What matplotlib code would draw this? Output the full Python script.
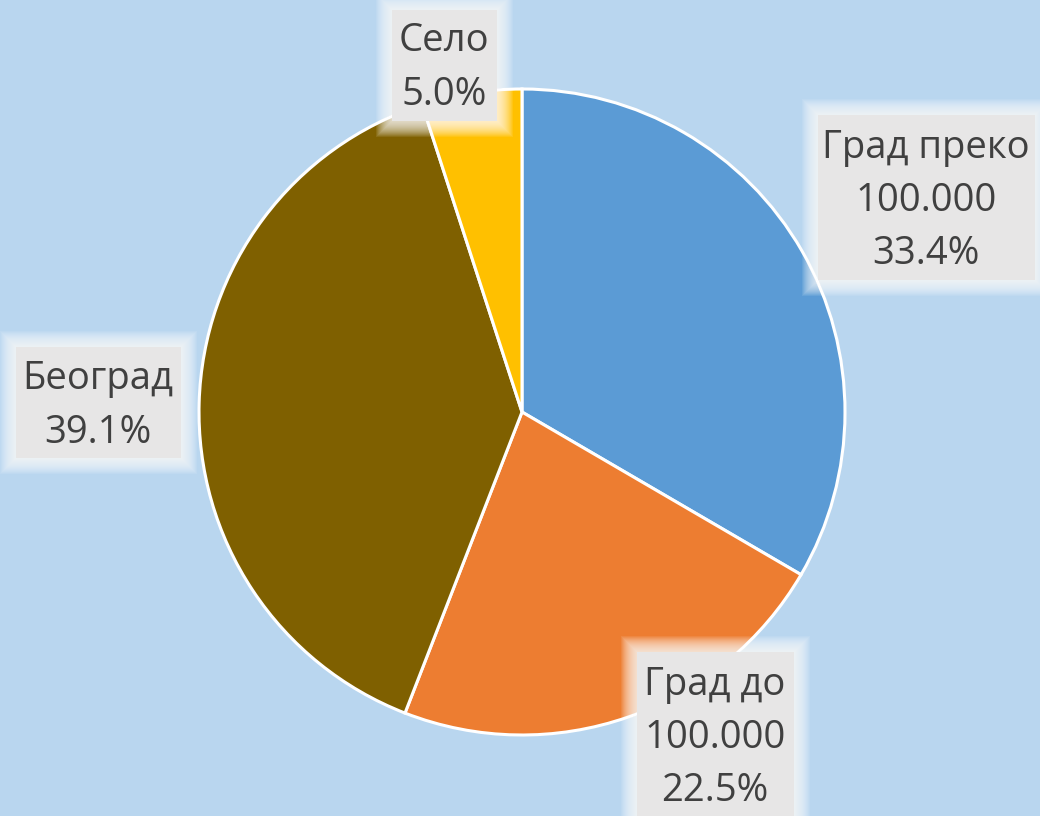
import matplotlib.pyplot as plt
from matplotlib.patches import Rectangle

# data
labels = ['Град преко\n100.000', 'Град до\n100.000', 'Београд', 'Село']
shares = [33.4, 22.5, 39.1, 5.0]
colors = ['#5B9BD5', '#ED7D31', '#7F6000', '#FFC000']

# label boxes in pixel coords (left, top, width, height) and text center
boxes = [(818, 115, 217, 165), (637, 652, 157, 180), (16, 347, 165, 111), (392, 10, 105, 111)]
text_pos = [(926, 201), (715, 738), (98, 406), (444, 68)]

W, H = 1040, 816
bg = '#B9D6EF'

fig = plt.figure(figsize=(W / 100, H / 100), dpi=100, facecolor=bg)
ax = fig.add_axes([0, 0, 1, 1])
ax.set_facecolor(bg)

ax.pie(shares, colors=colors, startangle=90, counterclock=False,
       center=(522, H - 412), radius=323,
       wedgeprops=dict(edgecolor='white', linewidth=2.2))
ax.set_xlim(0, W)
ax.set_ylim(0, H)
ax.set_aspect('equal')
ax.axis('off')

for lab, val, (bx, by, bw, bh), (tx, ty) in zip(labels, shares, boxes, text_pos):
    y0 = H - by - bh
    # soft white glow round the box
    for g in range(16, 0, -1):
        ax.add_patch(Rectangle((bx - g, y0 - g), bw + 2 * g, bh + 2 * g,
                               facecolor='white', edgecolor='none', alpha=0.09,
                               joinstyle='round', zorder=3))
    ax.add_patch(Rectangle((bx, y0), bw, bh, facecolor='#E7E6E6', edgecolor='none', zorder=4))
    ax.text(tx, H - ty, lab + '\n' + f'{val:.1f}%', ha='center', va='center',
            fontsize=27.5, family=['Open Sans', 'DejaVu Sans'], color='#404040',
            linespacing=1.53, zorder=5)

fig.savefig('out.png', dpi=100, facecolor=bg)
